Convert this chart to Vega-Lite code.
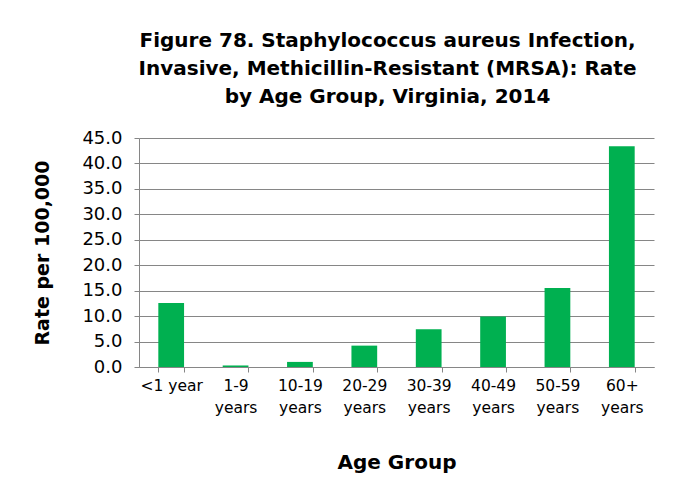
{
  "$schema": "https://vega.github.io/schema/vega-lite/v6.json",
  "width": 515,
  "height": 229,
  "autosize": {"type": "none"},
  "padding": {"left": 139, "top": 138, "right": 25, "bottom": 115},
  "background": "white",
  "title": {
    "text": ["Figure 78. Staphylococcus aureus Infection,", "Invasive, Methicillin-Resistant (MRSA): Rate", "by Age Group, Virginia, 2014"],
    "font": "DejaVu Sans",
    "fontSize": 20,
    "fontWeight": "bold",
    "color": "#000000",
    "lineHeight": 28,
    "anchor": "middle",
    "dx": -9,
    "offset": 22
  },
  "data": {
    "values": [
      {"group": "<1 year", "rate": 12.6},
      {"group": "1-9 years", "rate": 0.3},
      {"group": "10-19 years", "rate": 1.0},
      {"group": "20-29 years", "rate": 4.2},
      {"group": "30-39 years", "rate": 7.4},
      {"group": "40-49 years", "rate": 9.9},
      {"group": "50-59 years", "rate": 15.5},
      {"group": "60+ years", "rate": 43.4}
    ]
  },
  "mark": {"type": "bar", "color": "#00B050"},
  "encoding": {
    "x": {
      "field": "group",
      "type": "nominal",
      "sort": null,
      "scale": {"paddingInner": 0.6, "paddingOuter": 0.3},
      "axis": {
        "title": "Age Group",
        "titleFont": "DejaVu Sans",
        "titleFontSize": 20,
        "titleFontWeight": "bold",
        "titleColor": "#000000",
        "titlePadding": 37,
        "labelExpr": "datum.label == '<1 year' ? datum.label : split(datum.label, ' ')",
        "labelAngle": 0,
        "labelFont": "DejaVu Sans",
        "labelFontSize": 15.5,
        "labelColor": "#000000",
        "labelLineHeight": 22,
        "labelPadding": 6,
        "tickBand": "extent",
        "tickSize": 5,
        "tickColor": "#868686",
        "domainColor": "#868686",
        "grid": false
      }
    },
    "y": {
      "field": "rate",
      "type": "quantitative",
      "scale": {"domain": [0, 45]},
      "axis": {
        "title": "Rate per 100,000",
        "titleFont": "DejaVu Sans",
        "titleFontSize": 19,
        "titleFontWeight": "bold",
        "titleColor": "#000000",
        "titlePadding": 29,
        "values": [0, 5, 10, 15, 20, 25, 30, 35, 40, 45],
        "format": ".1f",
        "labelFont": "DejaVu Sans",
        "labelFontSize": 18,
        "labelColor": "#000000",
        "labelPadding": 12,
        "tickSize": 5,
        "tickColor": "#868686",
        "domainColor": "#868686",
        "gridColor": "#868686",
        "gridWidth": 1
      }
    }
  },
  "config": {"view": {"stroke": null}}
}
